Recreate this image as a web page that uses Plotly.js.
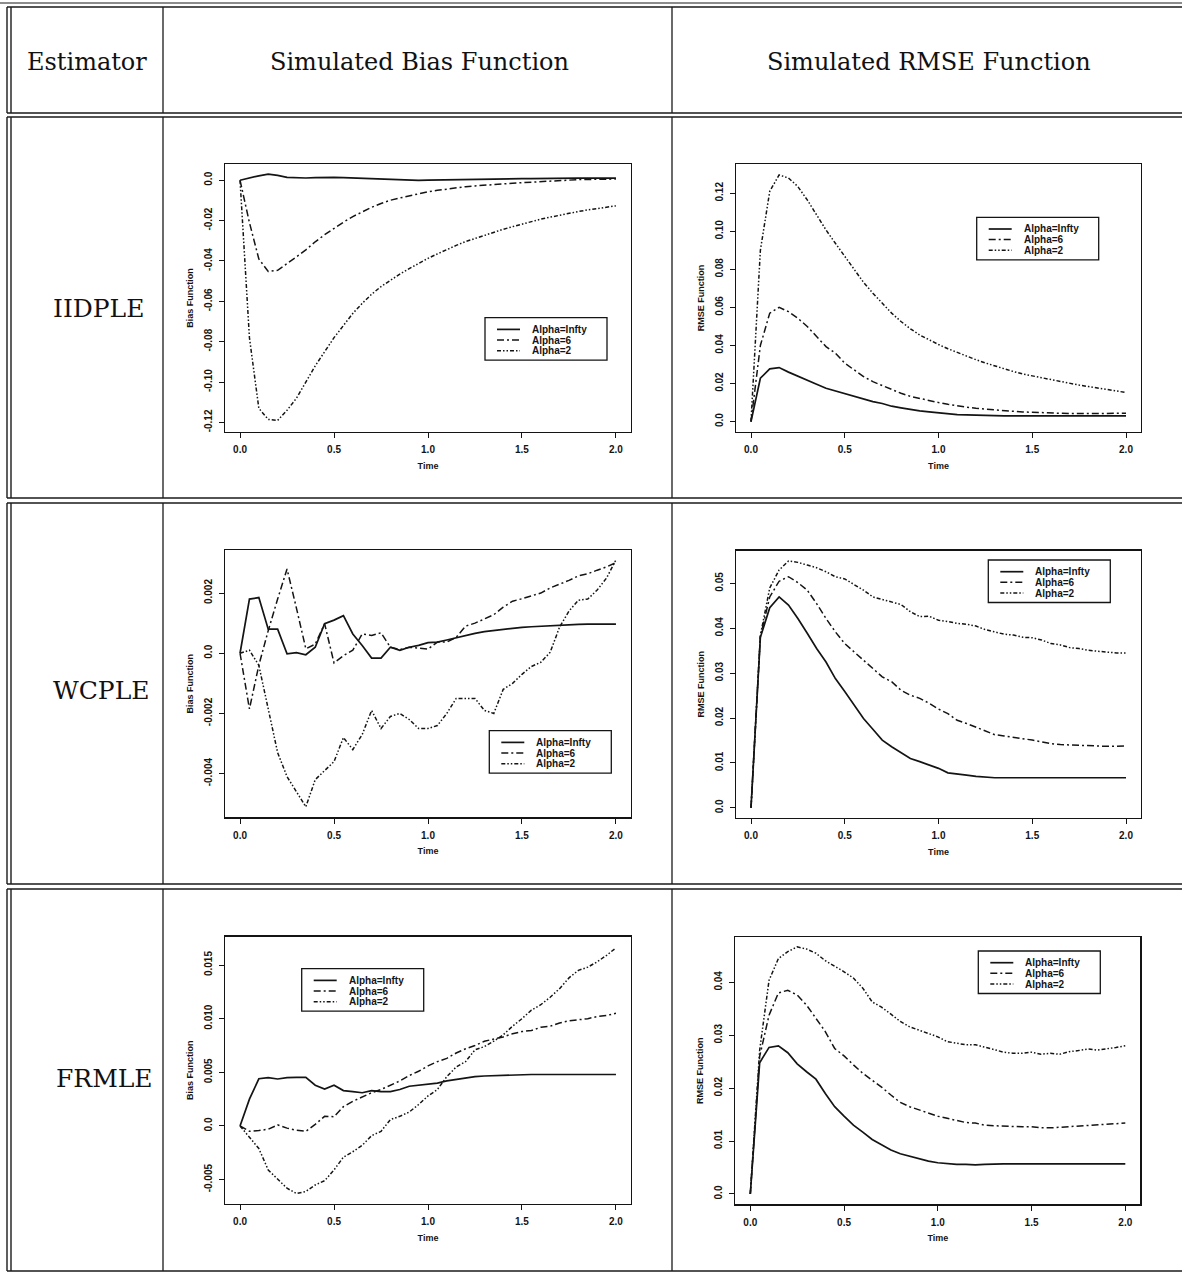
<!DOCTYPE html>
<html>
<head>
<meta charset="utf-8">
<script src="https://cdn.plot.ly/plotly-3.0.1.min.js"></script>
<style>
  html, body { margin: 0; padding: 0; background: #ffffff; }
  #chart { width: 1182px; height: 1273px; }
</style>
</head>
<body>
<div id="chart"></div>
<script>
// ---- Data --------------------------------------------------------------
const time = [
  0.00, 0.05, 0.10, 0.15, 0.20, 0.25, 0.30, 0.35, 0.40, 0.45,
  0.50, 0.55, 0.60, 0.65, 0.70, 0.75, 0.80, 0.85, 0.90, 0.95,
  1.00, 1.05, 1.10, 1.15, 1.20, 1.25, 1.30, 1.35, 1.40, 1.45,
  1.50, 1.55, 1.60, 1.65, 1.70, 1.75, 1.80, 1.85, 1.90, 1.95,
  2.00
];

const seriesNames = ['Alpha=Infty', 'Alpha=6', 'Alpha=2'];
const estimators = ['IIDPLE', 'WCPLE', 'FRMLE'];
const columnHeaders = ['Estimator', 'Simulated Bias Function', 'Simulated RMSE Function'];
const axisTitleX = 'Time';
const biasTitle = 'Bias Function';
const rmseTitle = 'RMSE Function';

// IIDPLE
const iidBiasInfty = [
  0, 0.0012, 0.0022, 0.0030, 0.0024, 0.0014, 0.0012, 0.0011, 0.0013, 0.0015,
  0.0014, 0.0013, 0.0011, 0.0009, 0.0007, 0.0006, 0.0005, 0.0002, -0.0002, -0.0001,
  0.0001, 0.0002, 0.0003, 0.0004, 0.0005, 0.0006, 0.0006, 0.0007, 0.0007, 0.0008,
  0.0008, 0.0008, 0.0009, 0.0009, 0.0009, 0.0009, 0.0010, 0.0010, 0.0010, 0.0010,
  0.0010
];
const iidBiasAlpha6 = [
  0, -0.0210, -0.0390, -0.0452, -0.0446, -0.0415, -0.0380, -0.0345, -0.0305, -0.0270,
  -0.0238, -0.0208, -0.0180, -0.0155, -0.0134, -0.0115, -0.0099, -0.0088, -0.0077, -0.0066,
  -0.0057, -0.0050, -0.0043, -0.0037, -0.0032, -0.0028, -0.0024, -0.0021, -0.0018, -0.0015,
  -0.0012, -0.0009, -0.0006, -0.0003, 0.0000, 0.0002, 0.0003, 0.0004, 0.0005, 0.0005,
  0.0006
];
const iidBiasAlpha2 = [
  0, -0.0780, -0.1130, -0.1185, -0.1190, -0.1140, -0.1080, -0.1000, -0.0920, -0.0850,
  -0.0780, -0.0720, -0.0660, -0.0610, -0.0565, -0.0527, -0.0495, -0.0465, -0.0438, -0.0412,
  -0.0387, -0.0365, -0.0343, -0.0323, -0.0304, -0.0288, -0.0272, -0.0257, -0.0243, -0.0230,
  -0.0217, -0.0205, -0.0193, -0.0183, -0.0173, -0.0164, -0.0155, -0.0147, -0.0140, -0.0133,
  -0.0127
];
const iidRmseInfty = [
  0, 0.0228, 0.0277, 0.0284, 0.0260, 0.0240, 0.0219, 0.0196, 0.0175, 0.0161,
  0.0149, 0.0133, 0.0117, 0.0105, 0.0095, 0.0081, 0.0072, 0.0063, 0.0056, 0.0051,
  0.0046, 0.0041, 0.0037, 0.0035, 0.0033, 0.0032, 0.0031, 0.0030, 0.0030, 0.0030,
  0.0030, 0.0030, 0.0030, 0.0030, 0.0030, 0.0030, 0.0030, 0.0030, 0.0030, 0.0030,
  0.0030
];
const iidRmseAlpha6 = [
  0, 0.0400, 0.0570, 0.0600, 0.0578, 0.0543, 0.0500, 0.0447, 0.0394, 0.0360,
  0.0307, 0.0272, 0.0237, 0.0210, 0.0189, 0.0166, 0.0149, 0.0133, 0.0121, 0.0110,
  0.0100, 0.0091, 0.0082, 0.0076, 0.0070, 0.0065, 0.0061, 0.0057, 0.0054, 0.0051,
  0.0049, 0.0046, 0.0044, 0.0043, 0.0042, 0.0042, 0.0042, 0.0042, 0.0042, 0.0043,
  0.0044
];
const iidRmseAlpha2 = [
  0, 0.0900, 0.1210, 0.1296, 0.1280, 0.1235, 0.1165, 0.1086, 0.1007, 0.0937,
  0.0867, 0.0797, 0.0732, 0.0675, 0.0622, 0.0570, 0.0526, 0.0488, 0.0455, 0.0428,
  0.0405, 0.0383, 0.0363, 0.0344, 0.0325, 0.0308, 0.0292, 0.0277, 0.0263, 0.0250,
  0.0240, 0.0229, 0.0219, 0.0210, 0.0201, 0.0192, 0.0184, 0.0176, 0.0168, 0.0160,
  0.0153
];

// WCPLE
const wcBiasInfty = [
  0, 0.00180, 0.00185, 0.00080, 0.00080, -0.00002, 0.00002, -0.00005, 0.00020, 0.00098,
  0.00110, 0.00125, 0.00064, 0.00026, -0.00016, -0.00016, 0.00020, 0.00010, 0.00020, 0.00026,
  0.00035, 0.00037, 0.00044, 0.00052, 0.00059, 0.00066, 0.00072, 0.00076, 0.00080, 0.00083,
  0.00086, 0.00088, 0.00090, 0.00092, 0.00094, 0.00095, 0.00096, 0.00097, 0.00097, 0.00097,
  0.00097
];
const wcBiasAlpha6 = [
  0, -0.00185, -0.00040, 0.00075, 0.00180, 0.00280, 0.00150, 0.00015, 0.00030, 0.00098,
  -0.00032, -0.00008, 0.00010, 0.00064, 0.00059, 0.00068, 0.00020, 0.00012, 0.00020, 0.00017,
  0.00014, 0.00037, 0.00037, 0.00053, 0.00090, 0.00100, 0.00114, 0.00128, 0.00153, 0.00173,
  0.00181, 0.00190, 0.00200, 0.00217, 0.00229, 0.00242, 0.00257, 0.00264, 0.00276, 0.00287,
  0.00301
];
const wcBiasAlpha2 = [
  0, 0.00010, -0.00040, -0.00190, -0.00330, -0.00410, -0.00460, -0.00510, -0.00420, -0.00390,
  -0.00360, -0.00280, -0.00320, -0.00270, -0.00190, -0.00250, -0.00210, -0.00200, -0.00220, -0.00250,
  -0.00250, -0.00240, -0.00200, -0.00150, -0.00150, -0.00150, -0.00190, -0.00200, -0.00120, -0.00100,
  -0.00070, -0.00044, -0.00030, 0.00003, 0.00087, 0.00140, 0.00176, 0.00180, 0.00210, 0.00250,
  0.00310
];
const wcRmseInfty = [
  0, 0.0380, 0.0446, 0.0470, 0.0452, 0.0422, 0.0389, 0.0355, 0.0325, 0.0288,
  0.0259, 0.0229, 0.0199, 0.0175, 0.0151, 0.0136, 0.0122, 0.0110, 0.0103, 0.0095,
  0.0088, 0.0078, 0.0076, 0.0073, 0.0070, 0.0068, 0.0067, 0.0067, 0.0067, 0.0067,
  0.0067, 0.0067, 0.0067, 0.0067, 0.0067, 0.0067, 0.0067, 0.0067, 0.0067, 0.0067,
  0.0067
];
const wcRmseAlpha6 = [
  0, 0.0382, 0.0470, 0.0505, 0.0515, 0.0502, 0.0485, 0.0455, 0.0422, 0.0392,
  0.0366, 0.0348, 0.0329, 0.0310, 0.0292, 0.0281, 0.0262, 0.0251, 0.0244, 0.0233,
  0.0220, 0.0210, 0.0195, 0.0188, 0.0180, 0.0171, 0.0163, 0.0160, 0.0157, 0.0155,
  0.0151, 0.0147, 0.0143, 0.0141, 0.0140, 0.0140, 0.0138, 0.0137, 0.0137, 0.0137,
  0.0138
];
const wcRmseAlpha2 = [
  0, 0.0384, 0.0490, 0.0530, 0.0550, 0.0547, 0.0541, 0.0535, 0.0526, 0.0515,
  0.0510, 0.0498, 0.0485, 0.0470, 0.0464, 0.0459, 0.0453, 0.0437, 0.0426, 0.0427,
  0.0418, 0.0415, 0.0411, 0.0409, 0.0405, 0.0397, 0.0392, 0.0387, 0.0385, 0.0380,
  0.0379, 0.0374, 0.0366, 0.0363, 0.0357, 0.0355, 0.0351, 0.0349, 0.0346, 0.0345,
  0.0345
];

// FRMLE
const frBiasInfty = [
  0, 0.0025, 0.0044, 0.0045, 0.00438, 0.0045, 0.00453, 0.00453, 0.0038, 0.00345,
  0.0038, 0.0033, 0.0032, 0.0031, 0.0033, 0.0032, 0.0032, 0.0034, 0.0037, 0.0038,
  0.0039, 0.0040, 0.0042, 0.00435, 0.0045, 0.0046, 0.00466, 0.0047, 0.00475, 0.00478,
  0.0048, 0.0048, 0.0048, 0.0048, 0.0048, 0.0048, 0.0048, 0.0048, 0.0048, 0.0048,
  0.0048
];
const frBiasAlpha6 = [
  0, -0.0005, -0.00043, -0.0003, 0.0001, -0.0002, -0.0004, -0.0005, 0.00015, 0.0009,
  0.00087, 0.0018, 0.0023, 0.0027, 0.0031, 0.0034, 0.0038, 0.0042, 0.0047, 0.0051,
  0.0056, 0.0060, 0.0063, 0.0068, 0.0072, 0.0075, 0.0079, 0.0081, 0.0083, 0.0086,
  0.0088, 0.0089, 0.0092, 0.0093, 0.0096, 0.0098, 0.0099, 0.0100, 0.0102, 0.0103,
  0.0105
];
const frBiasAlpha2 = [
  0, -0.0010, -0.0021, -0.0041, -0.0050, -0.0058, -0.0063, -0.0061, -0.0055, -0.0051,
  -0.0041, -0.0029, -0.0024, -0.0018, -0.0009, -0.0005, 0.0006, 0.0009, 0.0013, 0.0020,
  0.0028, 0.0034, 0.0046, 0.0055, 0.0060, 0.0071, 0.0074, 0.0079, 0.0085, 0.0093,
  0.0100, 0.0108, 0.0113, 0.0120, 0.0128, 0.0138, 0.0145, 0.0148, 0.0153, 0.0159,
  0.0166
];
const frRmseInfty = [
  0, 0.0248, 0.0277, 0.0280, 0.0267, 0.0246, 0.0231, 0.0217, 0.0190, 0.0165,
  0.0147, 0.0130, 0.0117, 0.0103, 0.0093, 0.0083, 0.0076, 0.0071, 0.0066, 0.0062,
  0.0059, 0.0057, 0.0056, 0.0056, 0.0055, 0.0056, 0.0057, 0.0057, 0.0057, 0.0057,
  0.0057, 0.0057, 0.0057, 0.0057, 0.0057, 0.0057, 0.0057, 0.0057, 0.0057, 0.0057,
  0.0057
];
const frRmseAlpha6 = [
  0, 0.0260, 0.0338, 0.0380, 0.0385, 0.0376, 0.0357, 0.0332, 0.0307, 0.0275,
  0.0261, 0.0244, 0.0228, 0.0215, 0.0202, 0.0187, 0.0173, 0.0165, 0.0159, 0.0152,
  0.0147, 0.0143, 0.0139, 0.0135, 0.0134, 0.0130, 0.0129, 0.0128, 0.0127, 0.0127,
  0.0127, 0.0125, 0.0125, 0.0126, 0.0127, 0.0129, 0.0130, 0.0130, 0.0131, 0.0132,
  0.0134
];
const frRmseAlpha2 = [
  0, 0.0272, 0.0404, 0.0445, 0.0458, 0.0467, 0.0463, 0.0455, 0.0441, 0.0431,
  0.0420, 0.0408, 0.0389, 0.0363, 0.0353, 0.0340, 0.0326, 0.0316, 0.0310, 0.0304,
  0.0297, 0.0288, 0.0285, 0.0282, 0.0282, 0.0278, 0.0273, 0.0268, 0.0266, 0.0266,
  0.0268, 0.0264, 0.0266, 0.0264, 0.0269, 0.0271, 0.0274, 0.0272, 0.0274, 0.0277,
  0.0280
];

// Tick marks
const xTickVals = [0, 0.5, 1, 1.5, 2];
const xTickText = ['0.0', '0.5', '1.0', '1.5', '2.0'];
const iidBiasTickVals = [0, -0.02, -0.04, -0.06, -0.08, -0.10, -0.12];
const iidBiasTickText = ['0.0', '-0.02', '-0.04', '-0.06', '-0.08', '-0.10', '-0.12'];
const iidRmseTickVals = [0, 0.02, 0.04, 0.06, 0.08, 0.10, 0.12];
const iidRmseTickText = ['0.0', '0.02', '0.04', '0.06', '0.08', '0.10', '0.12'];
const wcBiasTickVals = [-0.004, -0.002, 0, 0.002];
const wcBiasTickText = ['-0.004', '-0.002', '0.0', '0.002'];
const wcRmseTickVals = [0, 0.01, 0.02, 0.03, 0.04, 0.05];
const wcRmseTickText = ['0.0', '0.01', '0.02', '0.03', '0.04', '0.05'];
const frBiasTickVals = [-0.005, 0, 0.005, 0.010, 0.015];
const frBiasTickText = ['-0.005', '0.0', '0.005', '0.010', '0.015'];
const frRmseTickVals = [0, 0.01, 0.02, 0.03, 0.04];
const frRmseTickText = ['0.0', '0.01', '0.02', '0.03', '0.04'];

// ---- Panels: data references plus placement (pixels on the page) ----------
const panels = [
  { series: [iidBiasInfty, iidBiasAlpha6, iidBiasAlpha2], yTitle: biasTitle,
    tickVals: iidBiasTickVals, tickText: iidBiasTickText, yRange: [-0.1246, 0.0079],
    box: [225, 631, 164.3, 431.7], legendAt: [485, 317.7] },
  { series: [iidRmseInfty, iidRmseAlpha6, iidRmseAlpha2], yTitle: rmseTitle,
    tickVals: iidRmseTickVals, tickText: iidRmseTickText, yRange: [-0.0053, 0.1352],
    box: [736, 1141, 164.3, 431.7], legendAt: [976.7, 217.3] },
  { series: [wcBiasInfty, wcBiasAlpha6, wcBiasAlpha2], yTitle: biasTitle,
    tickVals: wcBiasTickVals, tickText: wcBiasTickText, yRange: [-0.00545, 0.00343],
    box: [225, 631, 550, 817.3], legendAt: [489.3, 730.7] },
  { series: [wcRmseInfty, wcRmseAlpha6, wcRmseAlpha2], yTitle: rmseTitle,
    tickVals: wcRmseTickVals, tickText: wcRmseTickText, yRange: [-0.0022, 0.0573],
    box: [736, 1141, 550.7, 817.7], legendAt: [988.3, 560] },
  { series: [frBiasInfty, frBiasAlpha6, frBiasAlpha2], yTitle: biasTitle,
    tickVals: frBiasTickVals, tickText: frBiasTickText, yRange: [-0.00727, 0.01764],
    box: [225, 631, 936.7, 1204], legendAt: [301.7, 968.7] },
  { series: [frRmseInfty, frRmseAlpha6, frRmseAlpha2], yTitle: rmseTitle,
    tickVals: frRmseTickVals, tickText: frRmseTickText, yRange: [-0.00195, 0.04857],
    box: [735.3, 1140.3, 937, 1204.3], legendAt: [978.3, 951] }
];

// ---- Styling -------------------------------------------------------------
const W = 1182, H = 1273;
const px = x => x / W;
const py = y => 1 - y / H;
const ink = '#141414';
const sansFont = 'Liberation Sans, Arial, Helvetica, sans-serif';
const serifFont = 'DejaVu Serif, Liberation Serif, serif';
const dashStyles = ['solid', '7px,3px,2px,3px', '4px,2px,1.5px,2px,1.5px,2px'];
const lineWidths = [1.7, 1.5, 1.5];
const tickFont = { family: sansFont, size: 10, color: ink, weight: 'bold' };
const titleFont = { family: sansFont, size: 9, color: ink, weight: 'bold' };
const legendFont = { family: sansFont, size: 10, color: ink, weight: 'bold' };

const traces = [];
const layout = {
  width: W, height: H,
  margin: { l: 0, r: 0, t: 0, b: 0 },
  paper_bgcolor: '#ffffff', plot_bgcolor: '#ffffff',
  showlegend: false,
  shapes: [], annotations: []
};

panels.forEach((p, i) => {
  const n = i === 0 ? '' : String(i + 1);
  const [x0, x1, y0, y1] = p.box;
  p.series.forEach((ys, s) => {
    traces.push({
      type: 'scatter', mode: 'lines', name: seriesNames[s],
      x: time, y: ys, xaxis: 'x' + n, yaxis: 'y' + n,
      line: { color: ink, width: lineWidths[s], dash: dashStyles[s] },
      hoverinfo: 'skip'
    });
  });
  const common = {
    showline: true, mirror: true, linecolor: ink, linewidth: 1.4,
    ticks: 'outside', ticklen: 5, tickwidth: 1, tickcolor: ink,
    showgrid: false, zeroline: false, fixedrange: true,
    tickfont: tickFont
  };
  layout['xaxis' + n] = Object.assign({}, common, {
    domain: [px(x0), px(x1)], anchor: 'y' + n, range: [-0.08, 2.08],
    tickmode: 'array', tickvals: xTickVals, ticktext: xTickText,
    ticklabelstandoff: 3,
    title: { text: axisTitleX, standoff: 8, font: titleFont }
  });
  layout['yaxis' + n] = Object.assign({}, common, {
    domain: [py(y1), py(y0)], anchor: 'x' + n, range: p.yRange,
    tickmode: 'array', tickvals: p.tickVals, ticktext: p.tickText,
    tickangle: -90, ticklabelstandoff: 3,
    title: { text: p.yTitle, standoff: 7, font: titleFont }
  });

  // Legend box drawn inside the plot area
  const [lx, ly] = p.legendAt;
  const rows = [11.7, 22.3, 33];
  layout.shapes.push({
    type: 'rect', xref: 'paper', yref: 'paper',
    x0: px(lx), x1: px(lx + 122), y0: py(ly + 42.5), y1: py(ly),
    line: { color: ink, width: 1.3 }, fillcolor: 'rgba(0,0,0,0)'
  });
  seriesNames.forEach((name, s) => {
    layout.shapes.push({
      type: 'line', xref: 'paper', yref: 'paper',
      x0: px(lx + 12), x1: px(lx + 35), y0: py(ly + rows[s]), y1: py(ly + rows[s]),
      line: { color: ink, width: lineWidths[s], dash: dashStyles[s] }
    });
    layout.annotations.push({
      xref: 'paper', yref: 'paper', x: px(lx + 45), y: py(ly + rows[s]),
      xanchor: 'left', yanchor: 'middle', showarrow: false, text: name,
      font: legendFont
    });
  });
});

// ---- Table frame -----------------------------------------------------------
const rowBands = [[7, 113], [117, 498], [503, 884], [889, 1271]];
const colLines = [163, 672];
const frame = (xa, ya, xb, yb, w) => layout.shapes.push({
  type: 'line', xref: 'paper', yref: 'paper',
  x0: px(xa), y0: py(ya), x1: px(xb), y1: py(yb),
  line: { color: '#1a1a1a', width: w }
});
frame(0, 3, W, 3, 1.1);
rowBands.forEach(([top, bottom]) => {
  frame(7, top, W, top, 1.4);
  frame(7, bottom, W, bottom, 1.4);
  frame(7, top, 7, bottom, 1.4);
  frame(11, top, 11, bottom, 1.4);
  colLines.forEach(c => frame(c, top, c, bottom, 1.3));
});

// Header and estimator labels
const headerCenters = [87, 419, 929];
columnHeaders.forEach((txt, k) => {
  layout.annotations.push({
    xref: 'paper', yref: 'paper', x: px(headerCenters[k]), y: py(62),
    xanchor: 'center', yanchor: 'middle', showarrow: false, text: txt,
    font: { family: serifFont, size: 24, color: '#111' }
  });
});
const estimatorCenters = [[98, 308], [101, 691], [104, 1078]];
estimators.forEach((txt, k) => {
  layout.annotations.push({
    xref: 'paper', yref: 'paper', x: px(estimatorCenters[k][0]), y: py(estimatorCenters[k][1]),
    xanchor: 'center', yanchor: 'middle', showarrow: false, text: txt,
    font: { family: serifFont, size: 25, color: '#111' }
  });
});

Plotly.newPlot('chart', traces, layout, { staticPlot: true, displayModeBar: false });
</script>
</body>
</html>
